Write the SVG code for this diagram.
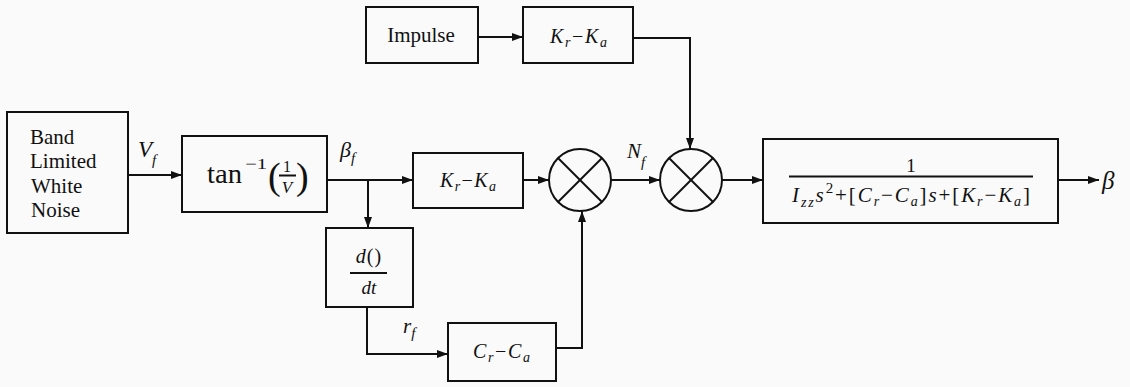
<svg xmlns="http://www.w3.org/2000/svg" width="1130" height="387" viewBox="0 0 1130 387">
<defs>
<marker id="arr" markerUnits="userSpaceOnUse" markerWidth="11" markerHeight="8" refX="11" refY="4" orient="auto">
<path d="M0,0 L11,4 L0,8 z" fill="#111"/>
</marker>
<style>
.box{fill:none;stroke:#111;stroke-width:2}
.ln{fill:none;stroke:#111;stroke-width:2}
.wire{fill:none;stroke:#111;stroke-width:2;marker-end:url(#arr)}
text{font-family:"Liberation Serif","Times New Roman",serif;fill:#111}
.it{font-style:italic}
</style>
</defs>
<rect width="1130" height="387" fill="#fafafa"/>

<g id="band">
<rect class="box" x="7" y="112" width="121" height="121"/>
<text font-size="21" x="30" y="144">Band</text>
<text font-size="21" x="30" y="168">Limited</text>
<text font-size="21" x="31" y="193">White</text>
<text font-size="21" x="31" y="217">Noise</text>
</g>

<g id="impulse">
<rect class="box" x="366" y="7" width="112" height="56"/>
<text font-size="21" x="421" y="42" text-anchor="middle">Impulse</text>
</g>

<g id="k-top">
<rect class="box" x="523" y="7" width="110" height="56"/>
<text font-size="20" x="550" y="43" textLength="57" lengthAdjust="spacing"><tspan class="it">K</tspan><tspan class="it" font-size="14" dy="4">r</tspan><tspan dy="-4">−</tspan><tspan class="it">K</tspan><tspan class="it" font-size="14" dy="4">a</tspan></text>
</g>

<g id="atan">
<rect class="box" x="182" y="136" width="145" height="76"/>
<text font-size="27" x="207" y="183" textLength="35" lengthAdjust="spacingAndGlyphs">tan</text>
<text font-size="15" x="245" y="169" textLength="22" lengthAdjust="spacingAndGlyphs">−1</text>
<text font-size="38" x="268" y="189">(</text>
<text font-size="38" x="296" y="189">)</text>
<text font-size="16" x="287" y="172" text-anchor="middle">1</text>
<line class="ln" x1="279" y1="175.5" x2="296" y2="175.5" stroke-width="1.3"/>
<text class="it" font-size="17" x="287" y="193" text-anchor="middle">V</text>
</g>

<g id="k-mid">
<rect class="box" x="413" y="153" width="110" height="55"/>
<text font-size="20" x="440" y="187" textLength="56" lengthAdjust="spacing"><tspan class="it">K</tspan><tspan class="it" font-size="14" dy="4">r</tspan><tspan dy="-4">−</tspan><tspan class="it">K</tspan><tspan class="it" font-size="14" dy="4">a</tspan></text>
</g>

<g id="deriv">
<rect class="box" x="326" y="228" width="87" height="79"/>
<text font-size="20" x="369" y="263" text-anchor="middle" letter-spacing="1"><tspan class="it">d</tspan>()</text>
<line class="ln" x1="350" y1="273" x2="387" y2="273" stroke-width="1.3"/>
<text class="it" font-size="19" x="369" y="294" text-anchor="middle">dt</text>
</g>

<g id="c-box">
<rect class="box" x="448" y="323" width="108" height="58"/>
<text font-size="20" x="473" y="358" textLength="57" lengthAdjust="spacing"><tspan class="it">C</tspan><tspan class="it" font-size="14" dy="4">r</tspan><tspan dy="-4">−</tspan><tspan class="it">C</tspan><tspan class="it" font-size="14" dy="4">a</tspan></text>
</g>

<g id="mult1">
<circle class="box" cx="580" cy="180" r="31"/>
<line class="ln" x1="558" y1="158" x2="602" y2="202"/>
<line class="ln" x1="602" y1="158" x2="558" y2="202"/>
</g>

<g id="mult2">
<circle class="box" cx="691" cy="180" r="31"/>
<line class="ln" x1="669" y1="158" x2="713" y2="202"/>
<line class="ln" x1="713" y1="158" x2="669" y2="202"/>
</g>

<g id="plant">
<rect class="box" x="763" y="139" width="295" height="84"/>
<text font-size="19" x="911" y="172" text-anchor="middle">1</text>
<line class="ln" x1="789" y1="176.5" x2="1033" y2="176.5" stroke-width="1.4"/>
<text font-size="21" x="792" y="202" textLength="238" lengthAdjust="spacing"><tspan class="it">I</tspan><tspan class="it" font-size="14" dy="5">zz</tspan><tspan class="it" dy="-5">s</tspan><tspan font-size="15" dy="-9">2</tspan><tspan dy="9">+[</tspan><tspan class="it">C</tspan><tspan class="it" font-size="14" dy="4">r</tspan><tspan dy="-4">−</tspan><tspan class="it">C</tspan><tspan class="it" font-size="14" dy="4">a</tspan><tspan dy="-4">]</tspan><tspan class="it">s</tspan><tspan>+[</tspan><tspan class="it">K</tspan><tspan class="it" font-size="14" dy="4">r</tspan><tspan dy="-4">−</tspan><tspan class="it">K</tspan><tspan class="it" font-size="14" dy="4">a</tspan><tspan dy="-4">]</tspan></text>
</g>

<g id="connectors">
<path class="wire" d="M478,37 L523,37"/>
<path class="wire" d="M633,38 L690,38 L690,149"/>
<path class="wire" d="M128,175 L182,175"/>
<path class="wire" d="M327,180 L413,180"/>
<path class="wire" d="M368,180 L368,228"/>
<path class="wire" d="M523,180 L549,180"/>
<path class="wire" d="M367,307 L367,354 L448,354"/>
<path class="wire" d="M556,348 L582,348 L582,211"/>
<path class="wire" d="M611,180 L660,180"/>
<path class="wire" d="M722,180 L763,180"/>
<path class="wire" d="M1058,180 L1099,180"/>
</g>

<g id="labels">
<text font-size="23" class="it" x="138" y="157">V<tspan font-size="15" dy="8">f</tspan></text>
<text font-size="22" class="it" x="340" y="157">β<tspan font-size="15" dy="6">f</tspan></text>
<text font-size="21" class="it" x="627" y="158">N<tspan font-size="15" dy="9">f</tspan></text>
<text font-size="21" class="it" x="403" y="333">r<tspan font-size="15" dy="5">f</tspan></text>
<text font-size="25" class="it" x="1102" y="189">β</text>
</g>
</svg>
